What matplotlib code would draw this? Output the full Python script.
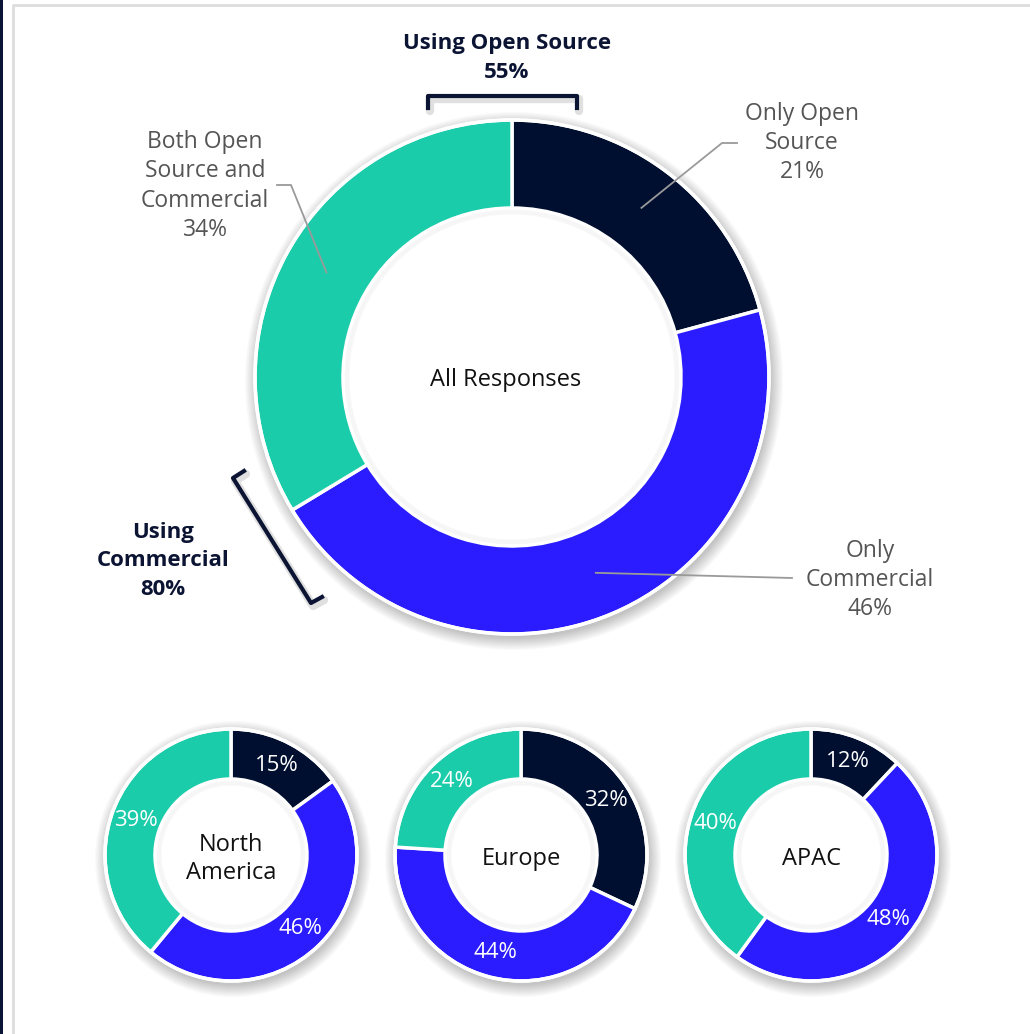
import matplotlib.pyplot as plt
from matplotlib.patches import Circle, Rectangle
import numpy as np

# Survey shares, clockwise from 12 o'clock: only open source, only commercial, both
segment_names = ["Only Open\nSource", "Only\nCommercial", "Both Open\nSource and\nCommercial"]
all_values = [21, 46, 34]

regions = ["North\nAmerica", "Europe", "APAC"]
region_values = [
    [15, 46, 39],
    [32, 44, 24],
    [12, 48, 40],
]

using_open_source = 55
using_commercial = 80

colors = ["#000f2f", "#2a1cff", "#1bccaa"]
W, H = 1030, 1034
FONT = ["Open Sans", "DejaVu Sans"]


def py(y):
    # convert a top-down pixel row into axes coordinates
    return H - y


def ring_shadow(ax, cx, cy, r, inner, steps=12):
    # soft drop shadow behind a donut, with the hole kept white
    for i in range(steps):
        ax.add_patch(Circle((cx + 2, cy - 4), r + i * 1.1, color="black",
                            alpha=0.018, lw=0, zorder=1))
    ax.add_patch(Circle((cx, cy), inner, color="white", lw=0, zorder=2))
    for i in range(5):
        ax.add_patch(Circle((cx, cy), inner - 1 - i * 1.2, fill=False, ec="black",
                            alpha=0.025, lw=1.3, zorder=2))


def donut(ax, values, cx, cy, radius, width):
    ring_shadow(ax, cx, cy, radius, radius - width)
    wedges, _ = ax.pie(values, center=(cx, cy), radius=radius, startangle=90,
                       counterclock=False, colors=colors,
                       wedgeprops=dict(width=width, edgecolor="white", linewidth=2.5))
    for w in wedges:
        w.set_zorder(3)
    ax.add_patch(Circle((cx, cy), radius, fill=False, ec="white", lw=2.5, zorder=4))
    return wedges


def mid_point(wedge, cx, cy, r):
    a = np.radians((wedge.theta1 + wedge.theta2) / 2)
    return cx + r * np.cos(a), cy + r * np.sin(a)


fig = plt.figure(figsize=(W / 100, H / 100), dpi=100)
ax = fig.add_axes([0, 0, 1, 1])

# page frame
ax.add_patch(Rectangle((0, 0), 3, H, color="#0a1535", lw=0, zorder=0))
ax.plot([13, 13, W], [0, py(5), py(5)], color="#dddddd", lw=2, zorder=0)

# main donut
mcx, mcy, mr, mw = 512, py(377), 257, 88
main_wedges = donut(ax, all_values, mcx, mcy, mr, mw)
ax.text(mcx - 6, mcy - 3, "All Responses", ha="center", va="center",
        fontsize=17, family=FONT, color="#111111", zorder=5)

# callouts with leader lines
label_color = "#555555"
line_color = "#9a9a9a"
callouts = [
    # (text centre, leader path from elbow to end)
    ((802, 143), [(722, 143), (737, 143)]),
    ((870, 580), [(792, 578)]),
    ((205, 186), [(291, 185), (277, 185)]),
]
for wedge, name, val, (tpos, path) in zip(main_wedges, segment_names, all_values, callouts):
    sx, sy = mid_point(wedge, mcx, mcy, mr - mw / 2)
    xs = [sx] + [p[0] for p in path]
    ys = [sy] + [py(p[1]) for p in path]
    ax.plot(xs, ys, color=line_color, lw=1.3, zorder=6)
    ax.text(tpos[0], py(tpos[1]), f"{name}\n{val}%", ha="center", va="center",
            fontsize=16.5, family=FONT, color=label_color, linespacing=1.3, zorder=6)

# brackets for the combined totals
navy = "#0b1433"
top_br = [(428, 108), (428, 96), (577, 96), (577, 108)]
left_br = [(244, 471), (233, 478), (311, 603), (322, 597)]
for br in (top_br, left_br):
    bx = [p[0] for p in br]
    by = [py(p[1]) for p in br]
    ax.plot([x + 2 for x in bx], [y - 3 for y in by], color="black", alpha=0.12,
            lw=6, solid_capstyle="round", zorder=5)
    ax.plot(bx, by, color=navy, lw=3, solid_joinstyle="round", zorder=6)

ax.text(507, py(58), f"Using Open Source\n{using_open_source}%", ha="center", va="center",
        fontsize=16, fontweight="bold", family=FONT, color=navy, linespacing=1.5, zorder=6)
ax.text(163, py(561), f"Using\nCommercial\n{using_commercial}%", ha="center", va="center",
        fontsize=16, fontweight="bold", family=FONT, color=navy, linespacing=1.45, zorder=6)

# regional donuts
region_x = [231, 521, 811]
rcy, rr, rw = py(855), 126, 50
for name, vals, cx in zip(regions, region_values, region_x):
    wedges = donut(ax, vals, cx, rcy, rr, rw)
    ax.text(cx, rcy - 4, name, ha="center", va="center", fontsize=17,
            family=FONT, color="#111111", linespacing=1.25, zorder=6)
    for w, v in zip(wedges, vals):
        tx, ty = mid_point(w, cx, rcy, rr - rw / 2)
        ax.text(tx, ty, f"{v}%", ha="center", va="center", fontsize=16,
                family=FONT, color="white", zorder=6)

ax.set_xlim(0, W)
ax.set_ylim(0, H)
ax.set_aspect("auto")
ax.axis("off")

fig.savefig("out.png", dpi=100, facecolor="white")
